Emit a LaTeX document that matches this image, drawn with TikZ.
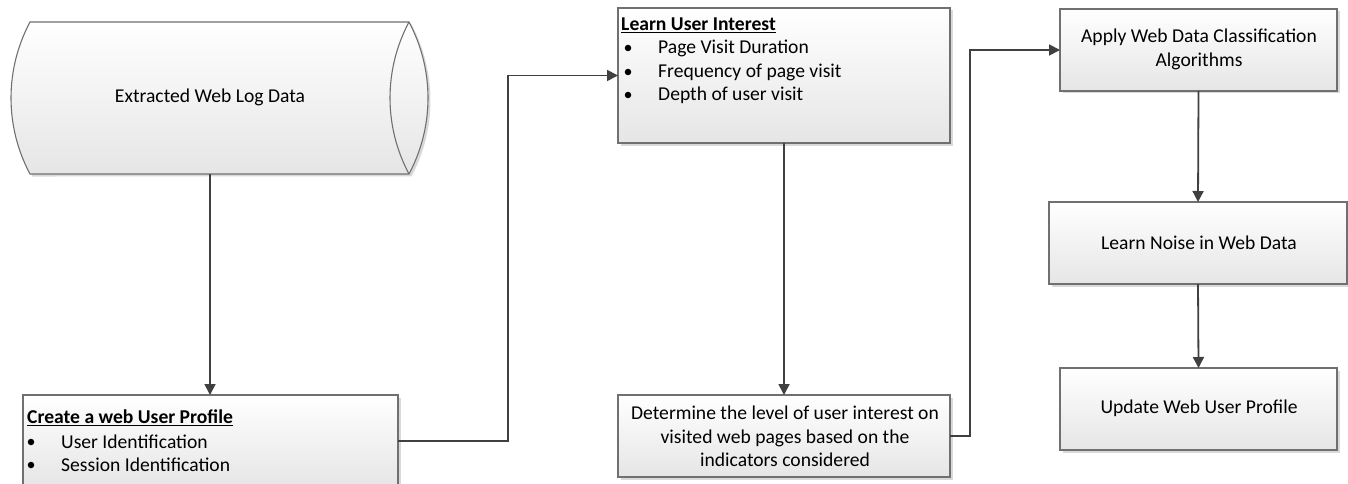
\documentclass[tikz,border=0pt]{standalone}
\usepackage{fontspec}
\setmainfont{Carlito}
\usetikzlibrary{arrows.meta,shadows}
\definecolor{linec}{HTML}{404040}
\definecolor{borderc}{HTML}{707070}
\tikzset{
  boxsty/.style={draw=borderc, line width=1.1pt, top color=white, bottom color=black!10,
    drop shadow={shadow xshift=2.5pt, shadow yshift=-2.5pt, fill=black, opacity=0.15},
    inner sep=0pt, outer sep=0pt},
  conn/.style={draw=linec, line width=1.8pt, -{Triangle[length=11pt,width=11pt]}},
  txt/.style={font=\fontsize{19.6}{23.5}\selectfont, inner sep=0pt, text=black},
  bul/.style={circle, fill=black, minimum size=6.5pt, inner sep=0pt},
}
\begin{document}
\begin{tikzpicture}[x=1pt,y=1pt]
\clip (0,0) rectangle (1348,483);
\useasboundingbox (0,0) rectangle (1348,483);
% cylinder
\path[boxsty] (30,461) -- (409,461) arc[start angle=28.07, end angle=-28.07, radius=161.5]
  -- (30,309) arc[start angle=208.07, end angle=151.93, radius=161.5] -- cycle;
\draw[draw=borderc, line width=1.1pt] (409,461) arc[start angle=151.93, end angle=208.07, radius=161.5];
\node[inner sep=0pt, minimum width=398pt, minimum height=152pt] (cyl) at (219.5,385) {};
\node[txt] (cyltxt) at (210,386) {Extracted Web Log Data};
% create box
\node[boxsty, minimum width=375pt, minimum height=92pt] (create) at (210.5,42) {};
\node[txt, anchor=west] (ctitle) at (27,65) {\underline{\textbf{Create a web User Profile}}};
\node[bul] (cb1) at (31,41) {};
\node[txt, anchor=west] (ci1) at (61,41) {User Identification};
\node[bul] (cb2) at (31,18) {};
\node[txt, anchor=west] (ci2) at (61,18) {Session Identification};
% learn box
\node[boxsty, minimum width=332pt, minimum height=135pt] (learn) at (784,407.5) {};
\node[txt, anchor=west] (ltitle) at (621,458) {\underline{\textbf{Learn User Interest}}};
\node[bul] (lb1) at (628,435) {};
\node[txt, anchor=west] (li1) at (658,435) {Page Visit Duration};
\node[bul] (lb2) at (628,411) {};
\node[txt, anchor=west] (li2) at (658,411) {Frequency of page visit};
\node[bul] (lb3) at (628,388) {};
\node[txt, anchor=west] (li3) at (658,388) {Depth of user visit};
% determine box
\node[boxsty, minimum width=332pt, minimum height=82pt] (det) at (784,47) {};
\node[txt, align=center] (dettxt) at (785,46.5) {Determine the level of user interest on\\visited web pages based on the\\indicators considered};
% right column
\node[boxsty, minimum width=277pt, minimum height=82pt] (apply) at (1198.5,433) {};
\node[txt, align=center] (applytxt) at (1199,433.5) {Apply Web Data Classification\\Algorithms};
\node[boxsty, minimum width=298pt, minimum height=82pt] (noise) at (1198,240) {};
\node[txt] (noisetxt) at (1199,240) {Learn Noise in Web Data};
\node[boxsty, minimum width=277pt, minimum height=82pt] (update) at (1198.5,74) {};
\node[txt] (updatetxt) at (1199,75) {Update Web User Profile};
% connectors
\draw[conn] (cyltxt |- cyl.south) -- (cyltxt |- create.north);
\draw[conn] (create.east) -- ++(110,0) |- (learn.west);
\draw[conn] (learn.south) -- (det.north);
\draw[conn] (det.east) -- ++(20,0) |- (apply.west);
\draw[conn] (apply.south) -- (noise.north);
\draw[conn] (noise.south) -- (update.north);
\end{tikzpicture}
\end{document}
